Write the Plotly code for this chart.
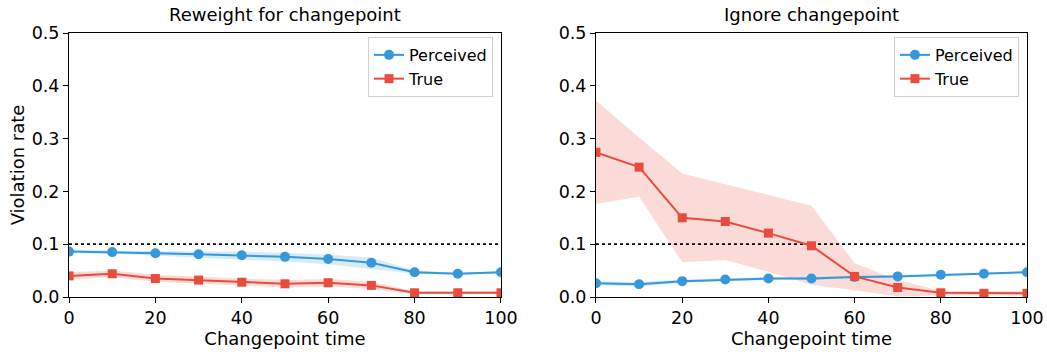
import plotly.graph_objects as go

times = [0, 10, 20, 30, 40, 50, 60, 70, 80, 90, 100]

# Left panel: Reweight for changepoint
rw_perc = [0.086, 0.085, 0.083, 0.081, 0.079, 0.076, 0.072, 0.065, 0.047, 0.044, 0.047]
rw_perc_lo = [0.083, 0.082, 0.079, 0.075, 0.071, 0.067, 0.062, 0.053, 0.044, 0.042, 0.045]
rw_perc_hi = [0.089, 0.088, 0.086, 0.086, 0.086, 0.084, 0.080, 0.075, 0.050, 0.046, 0.049]
rw_true = [0.040, 0.044, 0.035, 0.032, 0.028, 0.025, 0.027, 0.022, 0.008, 0.008, 0.008]
rw_true_lo = [0.033, 0.038, 0.029, 0.026, 0.022, 0.018, 0.020, 0.015, 0.005, 0.005, 0.005]
rw_true_hi = [0.047, 0.050, 0.042, 0.039, 0.035, 0.032, 0.034, 0.029, 0.011, 0.011, 0.011]

# Right panel: Ignore changepoint
ig_perc = [0.026, 0.024, 0.030, 0.033, 0.035, 0.035, 0.038, 0.039, 0.042, 0.044, 0.047]
ig_perc_lo = [0.022, 0.020, 0.027, 0.030, 0.032, 0.032, 0.036, 0.037, 0.040, 0.042, 0.045]
ig_perc_hi = [0.030, 0.028, 0.033, 0.036, 0.038, 0.038, 0.040, 0.041, 0.044, 0.046, 0.049]
ig_true = [0.274, 0.246, 0.150, 0.143, 0.121, 0.097, 0.039, 0.018, 0.008, 0.007, 0.007]
ig_true_lo = [0.176, 0.190, 0.066, 0.070, 0.048, 0.023, 0.013, 0.001, 0.003, 0.003, 0.003]
ig_true_hi = [0.372, 0.302, 0.234, 0.214, 0.194, 0.173, 0.064, 0.032, 0.012, 0.011, 0.011]

threshold = 0.1
titles = ["Reweight for changepoint", "Ignore changepoint"]
x_ticks = [0, 20, 40, 60, 80, 100]
y_ticks = [0.0, 0.1, 0.2, 0.3, 0.4, 0.5]

BLUE = "#3498db"
RED = "#e74c3c"
BLUE_FILL = "rgba(52,152,219,0.2)"
RED_FILL = "rgba(231,76,60,0.2)"
FONT = "DejaVu Sans"

fig = go.Figure()

panels = [
    (rw_perc, rw_perc_lo, rw_perc_hi, rw_true, rw_true_lo, rw_true_hi, "x", "y", "legend"),
    (ig_perc, ig_perc_lo, ig_perc_hi, ig_true, ig_true_lo, ig_true_hi, "x2", "y2", "legend2"),
]

for (p, plo, phi, t, tlo, thi, xa, ya, leg) in panels:
    fig.add_trace(go.Scatter(x=times + times[::-1], y=phi + plo[::-1], fill="toself",
                             fillcolor=BLUE_FILL, line=dict(width=0), mode="lines",
                             hoverinfo="skip", showlegend=False, xaxis=xa, yaxis=ya))
    fig.add_trace(go.Scatter(x=times + times[::-1], y=thi + tlo[::-1], fill="toself",
                             fillcolor=RED_FILL, line=dict(width=0), mode="lines",
                             hoverinfo="skip", showlegend=False, xaxis=xa, yaxis=ya))
    fig.add_trace(go.Scatter(x=[0, 100], y=[threshold, threshold], mode="lines",
                             line=dict(color="black", width=1.8, dash="dot"),
                             showlegend=False, xaxis=xa, yaxis=ya))
    fig.add_trace(go.Scatter(x=times, y=p, mode="lines+markers", name="Perceived",
                             line=dict(color=BLUE, width=2),
                             marker=dict(symbol="circle", size=10, color=BLUE),
                             xaxis=xa, yaxis=ya, legend=leg))
    fig.add_trace(go.Scatter(x=times, y=t, mode="lines+markers", name="True",
                             line=dict(color=RED, width=2),
                             marker=dict(symbol="square", size=9, color=RED),
                             xaxis=xa, yaxis=ya, legend=leg))

axis_common = dict(showline=True, linecolor="black", linewidth=1, mirror=True,
                   ticks="outside", ticklen=5, tickcolor="black", showgrid=False,
                   zeroline=False, automargin=False,
                   tickfont=dict(size=17.5, color="black", family=FONT))

L_DOM = [0.0, 0.4509]
R_DOM = [0.5501, 1.0]
TITLE_FONT = dict(size=18, family=FONT, color="black")

fig.update_layout(
    width=1047, height=352,
    margin=dict(l=69, r=20, t=33, b=55),
    plot_bgcolor="white", paper_bgcolor="white",
    font=dict(family=FONT, color="black"),
    xaxis=dict(domain=L_DOM, range=[0, 100], tickvals=x_ticks,
               title=dict(text="Changepoint time", font=TITLE_FONT, standoff=2), anchor="y",
               **axis_common),
    yaxis=dict(domain=[0, 1], range=[0, 0.5], tickvals=y_ticks, tickformat=".1f",
               title=dict(text="Violation rate", font=TITLE_FONT, standoff=2), anchor="x",
               **axis_common),
    xaxis2=dict(domain=R_DOM, range=[0, 100], tickvals=x_ticks,
                title=dict(text="Changepoint time", font=TITLE_FONT, standoff=2), anchor="y2",
                **axis_common),
    yaxis2=dict(domain=[0, 1], range=[0, 0.5], tickvals=y_ticks, tickformat=".1f",
                anchor="x2", **axis_common),
    legend=dict(x=0.4426, y=0.985, xanchor="right", yanchor="top",
                bgcolor="white", bordercolor="#d0d0d0", borderwidth=1,
                font=dict(size=16, family=FONT), tracegroupgap=0),
    legend2=dict(x=0.9916, y=0.985, xanchor="right", yanchor="top",
                 bgcolor="white", bordercolor="#d0d0d0", borderwidth=1,
                 font=dict(size=16, family=FONT), tracegroupgap=0),
    annotations=[
        dict(text=titles[0], x=sum(L_DOM) / 2, y=1.0, xref="paper", yref="paper",
             xanchor="center", yanchor="bottom", yshift=6, showarrow=False,
             font=TITLE_FONT),
        dict(text=titles[1], x=sum(R_DOM) / 2, y=1.0, xref="paper", yref="paper",
             xanchor="center", yanchor="bottom", yshift=6, showarrow=False,
             font=TITLE_FONT),
    ],
)

fig.write_html(
    "out.html",
    config={"displayModeBar": False},
    post_script="document.body.style.margin='0';document.body.style.overflow='hidden';",
)
